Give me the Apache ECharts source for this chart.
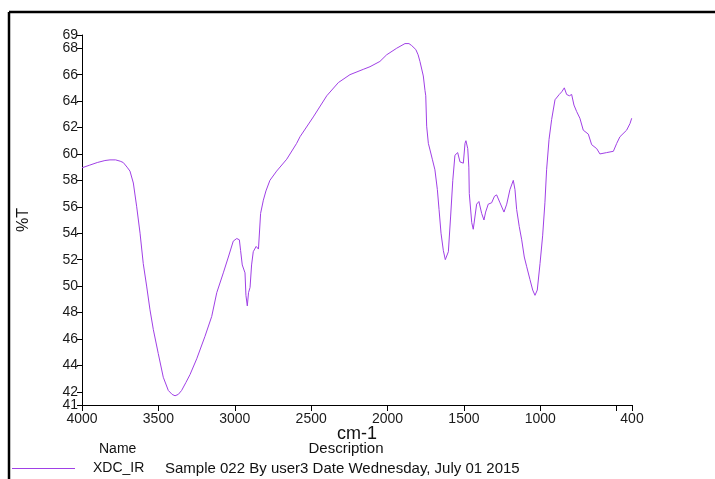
<!DOCTYPE html>
<html>
<head>
<meta charset="utf-8">
<script src="https://cdn.jsdelivr.net/npm/echarts@6/dist/echarts.min.js"></script>
<style>
html,body{margin:0;padding:0;background:#fff;}
#chart{width:715px;height:479px;}
</style>
</head>
<body>
<div id="chart"></div>
<script>
// Wavenumbers (cm-1) and %T
const wavenumbers = [4000,3950,3900,3850,3817,3780,3750,3730,3705,3686,3664,3642,3620,3599,3577,3555,3533,3501,3468,3435,3410,3391,3370,3348,3320,3293,3249,3195,3151,3118,3075,3042,3010,2987,2970,2962,2951,2933,2927,2918,2910,2900,2890,2879,2860,2845,2838,2831,2813,2796,2770,2726,2660,2595,2573,2486,2398,2322,2246,2159,2115,2050,2006,1940,1886,1860,1842,1815,1800,1788,1766,1755,1750,1744,1733,1722,1707,1690,1674,1663,1650,1635,1622,1610,1602,1587,1573,1559,1541,1526,1504,1493,1487,1475,1468,1465,1449,1439,1428,1417,1402,1384,1369,1358,1341,1319,1300,1286,1264,1238,1220,1199,1177,1166,1155,1138,1122,1105,1090,1068,1050,1035,1020,1002,985,970,959,943,926,904,876,860,843,828,810,795,780,762,741,719,686,664,631,610,566,522,500,479,435,413,402];
const transmittance = [58.95,59.15,59.35,59.5,59.55,59.55,59.45,59.35,59.0,58.7,57.8,56.0,54.0,51.7,50.0,48.2,46.7,44.9,43.1,42.1,41.8,41.7,41.8,42.1,42.7,43.3,44.5,46.2,47.7,49.5,51.0,52.2,53.4,53.6,53.5,52.7,51.6,51.0,49.3,48.5,49.5,49.9,51.6,52.6,53.0,52.8,52.8,55.5,56.5,57.2,58.0,58.7,59.6,60.8,61.3,62.8,64.4,65.4,66.0,66.4,66.6,67.0,67.5,68.0,68.35,68.35,68.2,67.9,67.5,67.0,65.9,64.8,64.4,62.1,60.8,60.3,59.6,58.8,57.3,55.8,54.0,52.7,52.0,52.0,52.6,55.3,58.0,59.9,60.1,59.4,59.3,60.8,61.0,60.4,59.0,57.0,54.8,54.3,54.4,56.2,56.4,55.5,55.0,55.6,56.2,56.3,56.8,56.9,56.3,55.6,56.2,57.3,58.0,57.3,55.8,54.5,53.5,52.2,51.5,50.5,49.7,49.3,49.7,51.7,53.8,56.3,58.8,61.1,62.6,64.1,64.5,64.7,65.0,64.5,64.4,64.5,63.7,63.2,62.7,61.8,61.5,60.7,60.4,60.0,60.1,60.2,60.8,61.3,61.8,62.3,62.7];

const xTickValues = [4000,3500,3000,2500,2000,1500,1000,500,400];
const xLabelValues = [4000,3500,3000,2500,2000,1500,1000,400];
// y ticks split over two axes so the closely spaced 41/42 and 68/69 labels are all kept
const yTickValuesMain = [41,44,46,48,50,52,54,56,58,60,62,64,66,69];
const yTickValuesExtra = [42,68];

const seriesName = 'XDC_IR';
const seriesDescription = 'Sample 022 By user3 Date Wednesday, July 01 2015';

const FONT = '"Liberation Sans", Arial, sans-serif';
const LINE_COLOR = '#a040e6';

const yLabelStyle = {fontFamily: FONT, fontSize: 14, color: '#1a1a1a'};

const chart = echarts.init(document.getElementById('chart'), null, {renderer: 'canvas'});
chart.setOption({
  animation: false,
  backgroundColor: '#fff',
  grid: {left: 82, right: 83, top: 35, bottom: 74, containLabel: false},
  xAxis: {
    type: 'value', inverse: true, min: 400, max: 4000,
    name: 'cm-1', nameLocation: 'middle', nameGap: 20, nameMoveOverlap: false,
    nameTextStyle: {fontFamily: FONT, fontSize: 18, color: '#111'},
    axisLine: {show: true, onZero: false, lineStyle: {color: '#000', width: 1}},
    axisTick: {show: true, inside: false, length: 6, customValues: xTickValues, lineStyle: {color: '#000'}},
    axisLabel: Object.assign({show: true, margin: 7, hideOverlap: false, customValues: xLabelValues, formatter: function (v) { return String(v); }}, yLabelStyle),
    splitLine: {show: false}
  },
  yAxis: [{
    type: 'value', min: 41, max: 69, position: 'left',
    name: '%T', nameLocation: 'middle', nameGap: 50, nameRotate: 90,
    nameTextStyle: {fontFamily: FONT, fontSize: 16, color: '#111'},
    axisLine: {show: true, onZero: false, lineStyle: {color: '#000', width: 1}},
    axisTick: {show: true, length: 5, customValues: yTickValuesMain, lineStyle: {color: '#000'}},
    axisLabel: Object.assign({show: true, margin: 4, showMinLabel: true, showMaxLabel: true, customValues: yTickValuesMain, formatter: function (v) { return String(v); }}, yLabelStyle),
    splitLine: {show: false}
  }, {
    type: 'value', min: 41, max: 69, position: 'left', offset: 0,
    axisLine: {show: false, onZero: false},
    axisTick: {show: true, length: 5, customValues: yTickValuesExtra, lineStyle: {color: '#000'}},
    axisLabel: Object.assign({show: true, margin: 4, showMinLabel: true, showMaxLabel: true, customValues: yTickValuesExtra, formatter: function (v) { return String(v); }}, yLabelStyle),
    splitLine: {show: false}
  }],
  legend: {
    show: true, left: 12, top: 461, orient: 'vertical', padding: 0,
    icon: 'rect', itemWidth: 63, itemHeight: 1,
    data: [seriesName],
    formatter: function (name) { return '{n|' + name + '}{d|' + seriesDescription + '}'; },
    textStyle: {
      fontFamily: FONT, fontSize: 14, color: '#111',
      rich: {
        n: {fontFamily: FONT, fontSize: 14, color: '#111', width: 72, padding: [0, 0, 0, 13]},
        d: {fontFamily: FONT, fontSize: 15, color: '#111'}
      }
    }
  },
  graphic: [
    {type: 'line', shape: {x1: 9, y1: 12, x2: 715, y2: 12}, style: {stroke: '#000', lineWidth: 2.5}, silent: true},
    {type: 'line', shape: {x1: 9, y1: 12, x2: 9, y2: 479}, style: {stroke: '#000', lineWidth: 2.5}, silent: true},
    {type: 'text', x: 99, y: 449, style: {text: 'Name', font: '14px ' + FONT, fill: '#111', textAlign: 'left', textVerticalAlign: 'middle'}, silent: true},
    {type: 'text', x: 346, y: 449, style: {text: 'Description', font: '15px ' + FONT, fill: '#111', textAlign: 'center', textVerticalAlign: 'middle'}, silent: true}
  ],
  series: [{
    name: seriesName, type: 'line', showSymbol: false, symbol: 'none', yAxisIndex: 0,
    lineStyle: {color: LINE_COLOR, width: 1},
    itemStyle: {color: LINE_COLOR},
    data: wavenumbers.map((w, i) => [w, transmittance[i]])
  }]
});
</script>
</body>
</html>
